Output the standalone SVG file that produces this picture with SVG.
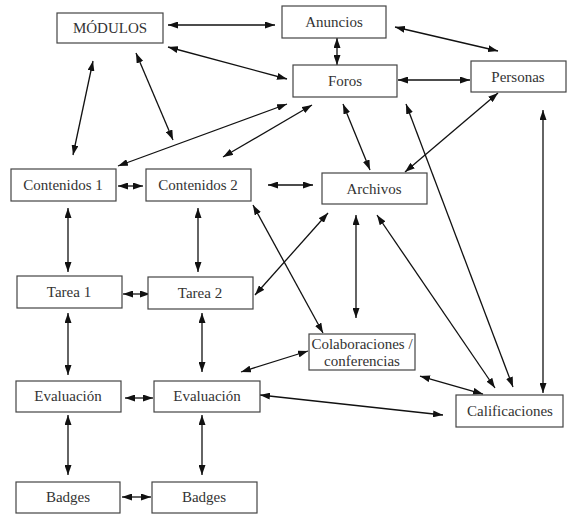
<svg xmlns="http://www.w3.org/2000/svg" width="568" height="516" viewBox="0 0 568 516">
<defs>
<marker id="ah" viewBox="0 0 10 7" refX="10" refY="3.5" markerWidth="10" markerHeight="7" markerUnits="userSpaceOnUse" orient="auto-start-reverse">
<path d="M0,0 L10,3.5 L0,7 z" fill="#111"/>
</marker>
<style>
.box{fill:#fff;stroke:#444;stroke-width:1.2}
.t{font-size:15px;fill:#333;text-anchor:middle}
.c line{stroke:#111;stroke-width:1.3;marker-start:url(#ah);marker-end:url(#ah)}
</style>
</defs>
<rect width="568" height="516" fill="#fff"/>
<g class="c" id="connectors">
<line x1="168" y1="25" x2="275" y2="25"/>
<line x1="168" y1="47" x2="287" y2="79"/>
<line x1="337" y1="38" x2="337" y2="65"/>
<line x1="395" y1="27" x2="498" y2="51"/>
<line x1="398" y1="80" x2="470" y2="80"/>
<line x1="93" y1="61" x2="73" y2="155"/>
<line x1="136" y1="53" x2="173" y2="140"/>
<line x1="287" y1="104" x2="118" y2="166"/>
<line x1="312" y1="105" x2="223" y2="157"/>
<line x1="343" y1="104" x2="370" y2="170"/>
<line x1="406" y1="104" x2="513" y2="387"/>
<line x1="498" y1="93" x2="405" y2="172"/>
<line x1="543" y1="110" x2="543" y2="393"/>
<line x1="118" y1="186" x2="143" y2="186"/>
<line x1="268" y1="185" x2="313" y2="185"/>
<line x1="253" y1="205" x2="323" y2="333"/>
<line x1="255" y1="295" x2="328" y2="213"/>
<line x1="356" y1="215" x2="356" y2="318"/>
<line x1="377" y1="215" x2="495" y2="388"/>
<line x1="68" y1="208" x2="68" y2="272"/>
<line x1="198" y1="208" x2="198" y2="272"/>
<line x1="123" y1="294" x2="150" y2="294"/>
<line x1="68" y1="313" x2="68" y2="375"/>
<line x1="202" y1="313" x2="202" y2="372"/>
<line x1="241" y1="372" x2="308" y2="351"/>
<line x1="420" y1="376" x2="483" y2="394"/>
<line x1="260" y1="395" x2="443" y2="415"/>
<line x1="125" y1="398" x2="153" y2="398"/>
<line x1="68" y1="415" x2="68" y2="475"/>
<line x1="202" y1="415" x2="202" y2="475"/>
<line x1="122" y1="497" x2="151" y2="497"/>
</g>
<g font-family="'Liberation Serif', 'Times New Roman', 'DejaVu Serif', serif">
<g id="modulos"><rect class="box" x="57" y="13" width="106" height="30"/><text class="t" x="110" y="33">MÓDULOS</text></g>
<g id="anuncios"><rect class="box" x="282" y="6" width="104" height="32"/><text class="t" x="334" y="27">Anuncios</text></g>
<g id="foros"><rect class="box" x="293" y="65" width="104" height="32"/><text class="t" x="345" y="86">Foros</text></g>
<g id="personas"><rect class="box" x="471" y="61" width="95" height="31"/><text class="t" x="518" y="82">Personas</text></g>
<g id="contenidos1"><rect class="box" x="11" y="169" width="105" height="32"/><text class="t" x="63" y="190">Contenidos 1</text></g>
<g id="contenidos2"><rect class="box" x="146" y="169" width="105" height="32"/><text class="t" x="198" y="190">Contenidos 2</text></g>
<g id="archivos"><rect class="box" x="322" y="173" width="105" height="31"/><text class="t" x="374" y="194">Archivos</text></g>
<g id="tarea1"><rect class="box" x="17" y="276" width="105" height="32"/><text class="t" x="69" y="297">Tarea 1</text></g>
<g id="tarea2"><rect class="box" x="148" y="277" width="105" height="32"/><text class="t" x="200" y="298">Tarea 2</text></g>
<g id="colaboraciones"><rect class="box" x="309" y="334" width="106" height="36"/><text class="t" x="362" y="349">Colaboraciones /</text><text class="t" x="362" y="366">conferencias</text></g>
<g id="calificaciones"><rect class="box" x="456" y="395" width="107" height="32"/><text class="t" x="510" y="416">Calificaciones</text></g>
<g id="evaluacion1"><rect class="box" x="16" y="381" width="105" height="31"/><text class="t" x="68" y="401">Evaluación</text></g>
<g id="evaluacion2"><rect class="box" x="154" y="381" width="106" height="31"/><text class="t" x="207" y="401">Evaluación</text></g>
<g id="badges1"><rect class="box" x="16" y="482" width="104" height="31"/><text class="t" x="68" y="502">Badges</text></g>
<g id="badges2"><rect class="box" x="152" y="482" width="105" height="31"/><text class="t" x="204" y="502">Badges</text></g>
</g>
</svg>
